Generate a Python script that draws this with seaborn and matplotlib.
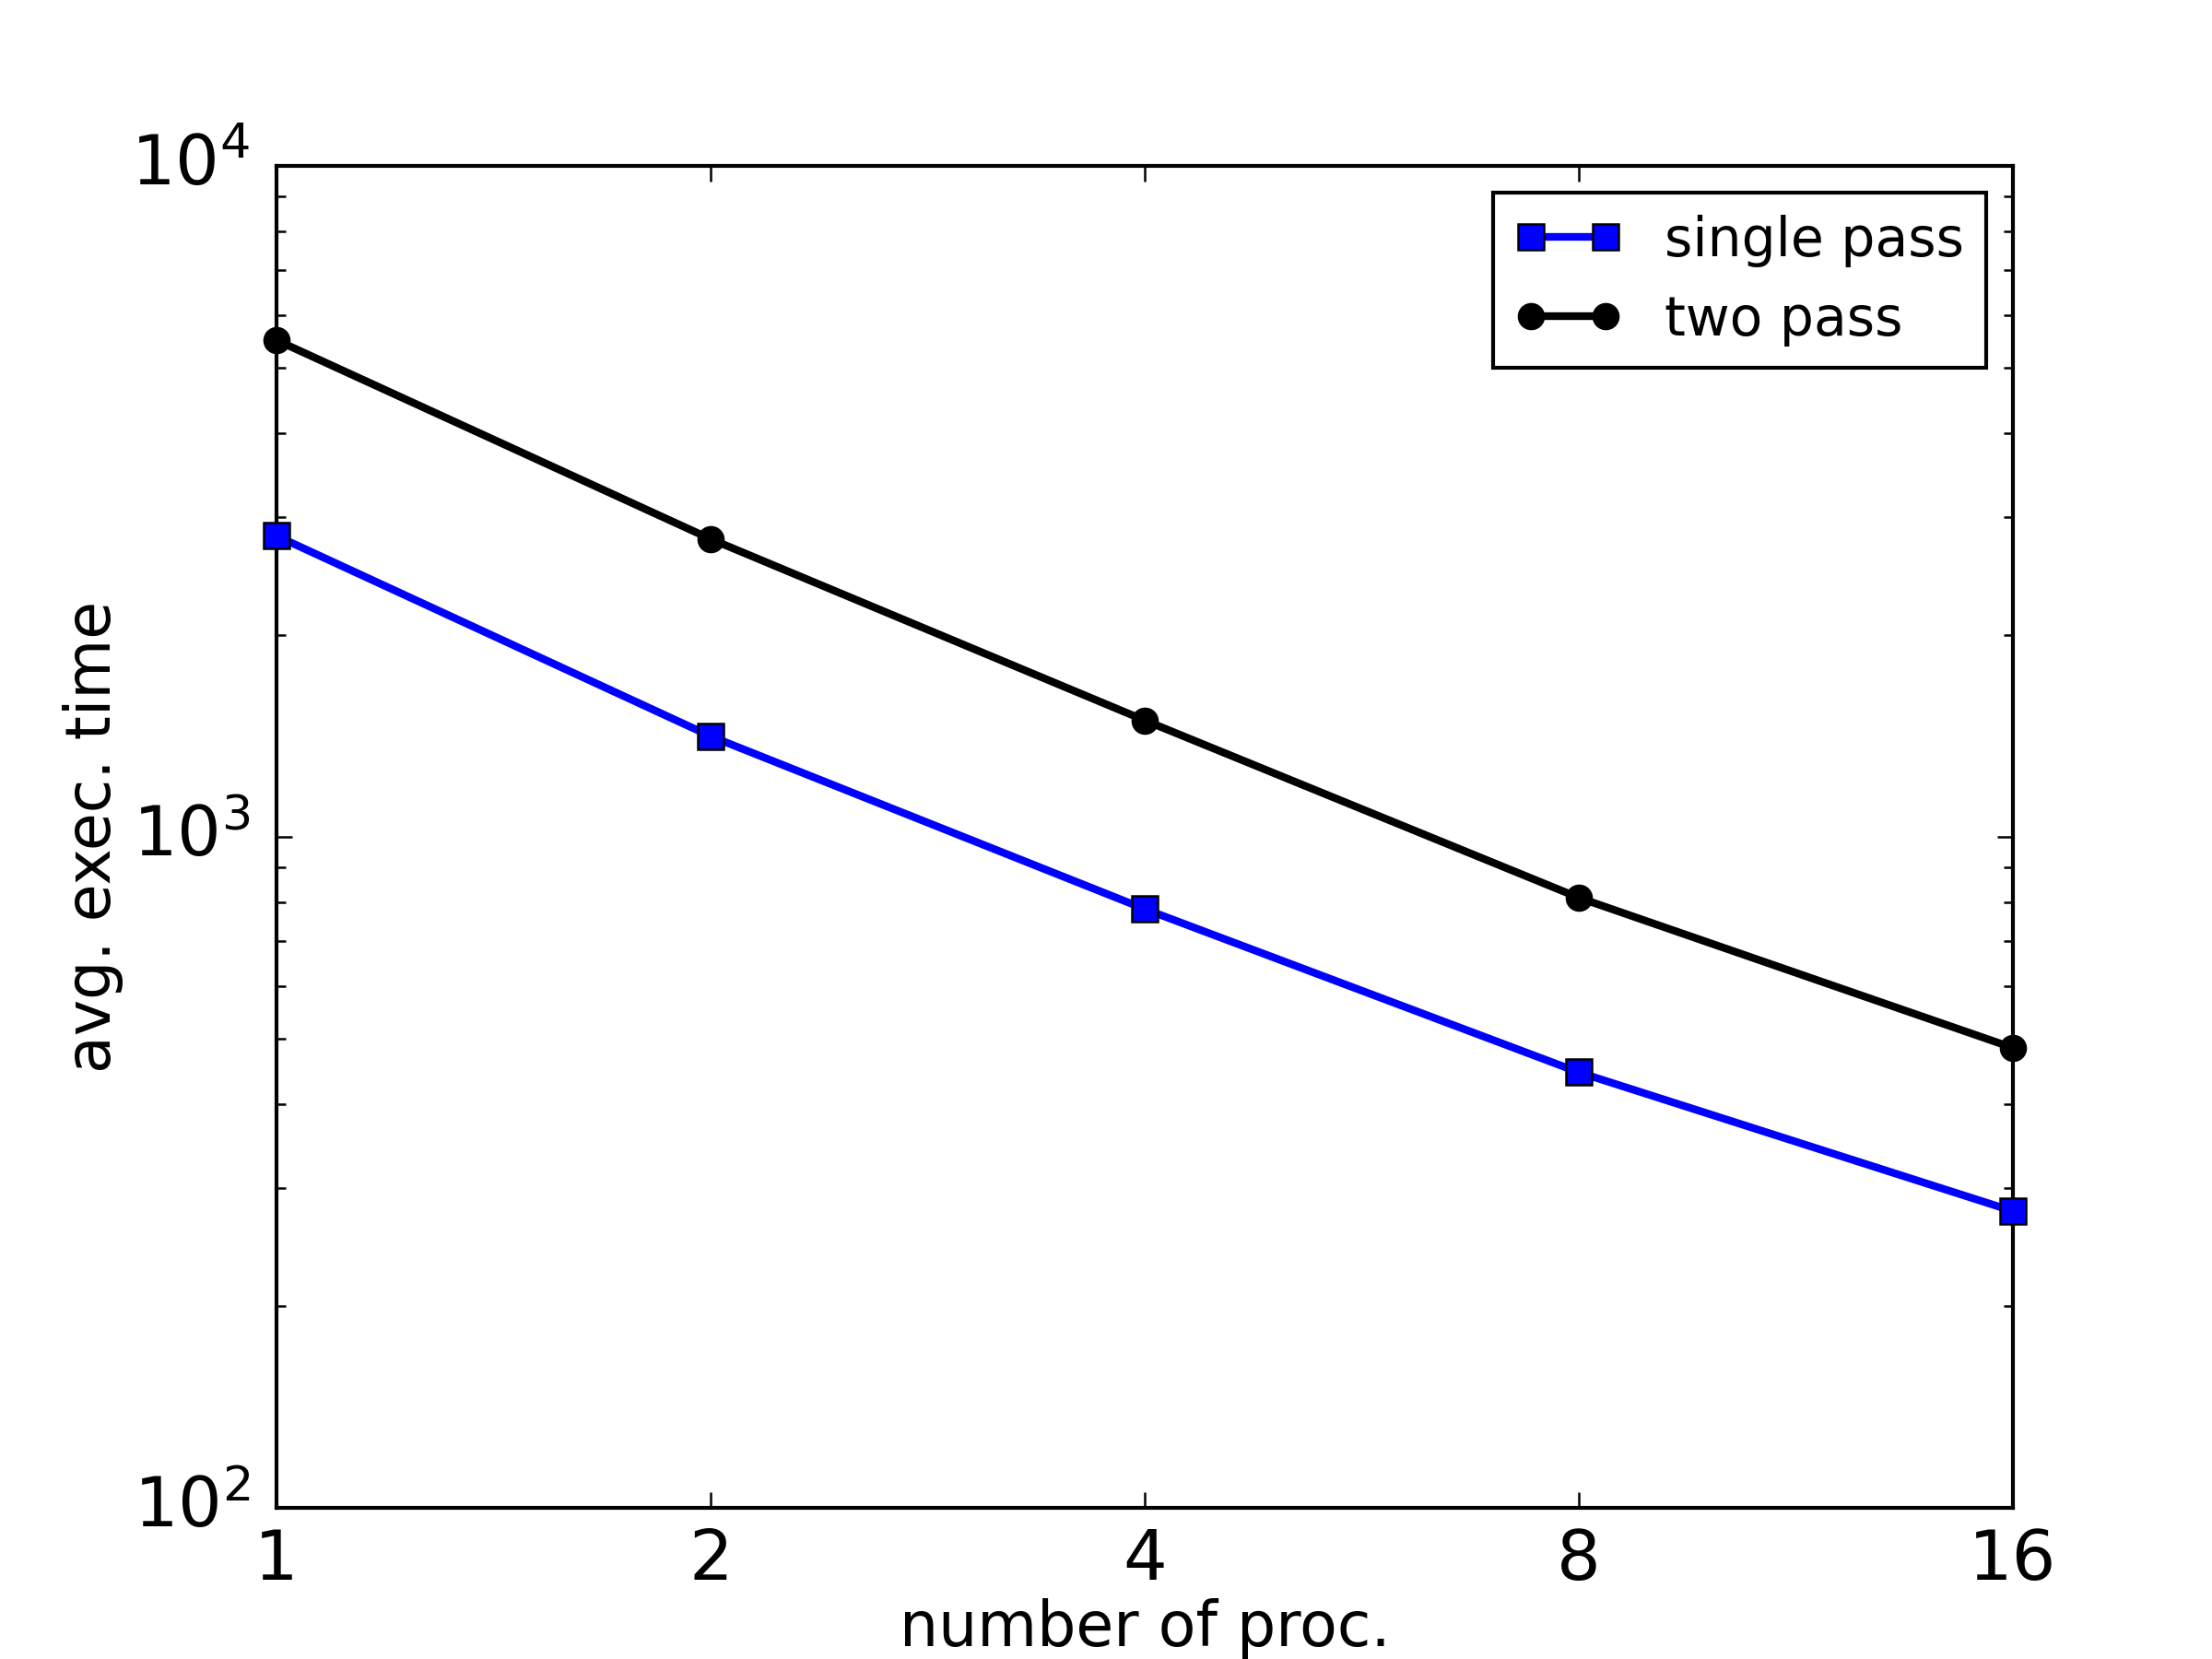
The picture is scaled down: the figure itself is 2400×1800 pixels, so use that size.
import matplotlib
matplotlib.use("Agg")
import matplotlib.pyplot as plt
import matplotlib.ticker as mticker
import seaborn as sns
import pandas as pd

procs = [1, 2, 4, 8, 16]
single_pass = [2810, 1413, 781, 446, 277]
two_pass = [5500, 2780, 1492, 812, 485]
series_names = ["single pass", "two pass"]
x_label = "number of proc."
y_label = "avg. exec. time"

plt.style.use("classic")
plt.rcParams["mathtext.fontset"] = "dejavusans"
plt.rcParams["font.family"] = ["DejaVu Sans"]

df = pd.DataFrame({
    "procs": procs * 2,
    "time": single_pass + two_pass,
    "series": [series_names[0]] * len(procs) + [series_names[1]] * len(procs),
})

fig, ax = plt.subplots(figsize=(8, 6), dpi=300)
fig.subplots_adjust(left=0.125, right=0.91, top=0.9, bottom=0.091)

sns.lineplot(data=df[df.series == series_names[0]], x="procs", y="time", ax=ax,
             color="blue", marker="s", markersize=6.5, linewidth=2,
             markeredgecolor="black", markeredgewidth=0.6, label=series_names[0],
             clip_on=False, zorder=3)
sns.lineplot(data=df[df.series == series_names[1]], x="procs", y="time", ax=ax,
             color="black", marker="o", markersize=6.5, linewidth=2,
             markeredgecolor="black", markeredgewidth=0.6, label=series_names[1],
             clip_on=False, zorder=3)

ax.set_xscale("log", base=2)
ax.set_yscale("log")
ax.set_xlim(1, 16)
ax.set_ylim(100, 10000)
ax.xaxis.set_major_locator(mticker.FixedLocator(procs))
ax.xaxis.set_major_formatter(mticker.FixedFormatter([str(p) for p in procs]))
ax.xaxis.set_minor_locator(mticker.NullLocator())
ax.tick_params(axis="both", which="major", labelsize=18, direction="in",
               length=4, width=0.6, top=True, right=True)
ax.tick_params(axis="x", which="major", pad=5)
ax.tick_params(axis="y", which="major", pad=7)
ax.tick_params(axis="y", which="minor", direction="in", length=2.5, width=0.6,
               left=True, right=True)
ax.set_xlabel(x_label, fontsize=16, labelpad=1)
ax.set_ylabel(y_label, fontsize=16, labelpad=2)
for s in ax.spines.values():
    s.set_linewidth(1.0)

leg = ax.legend(loc="upper right", numpoints=2, fontsize=14, frameon=True,
                fancybox=False)
leg.get_frame().set_edgecolor("black")
leg.get_frame().set_linewidth(1.0)

fig.savefig("out.png", dpi=300)
